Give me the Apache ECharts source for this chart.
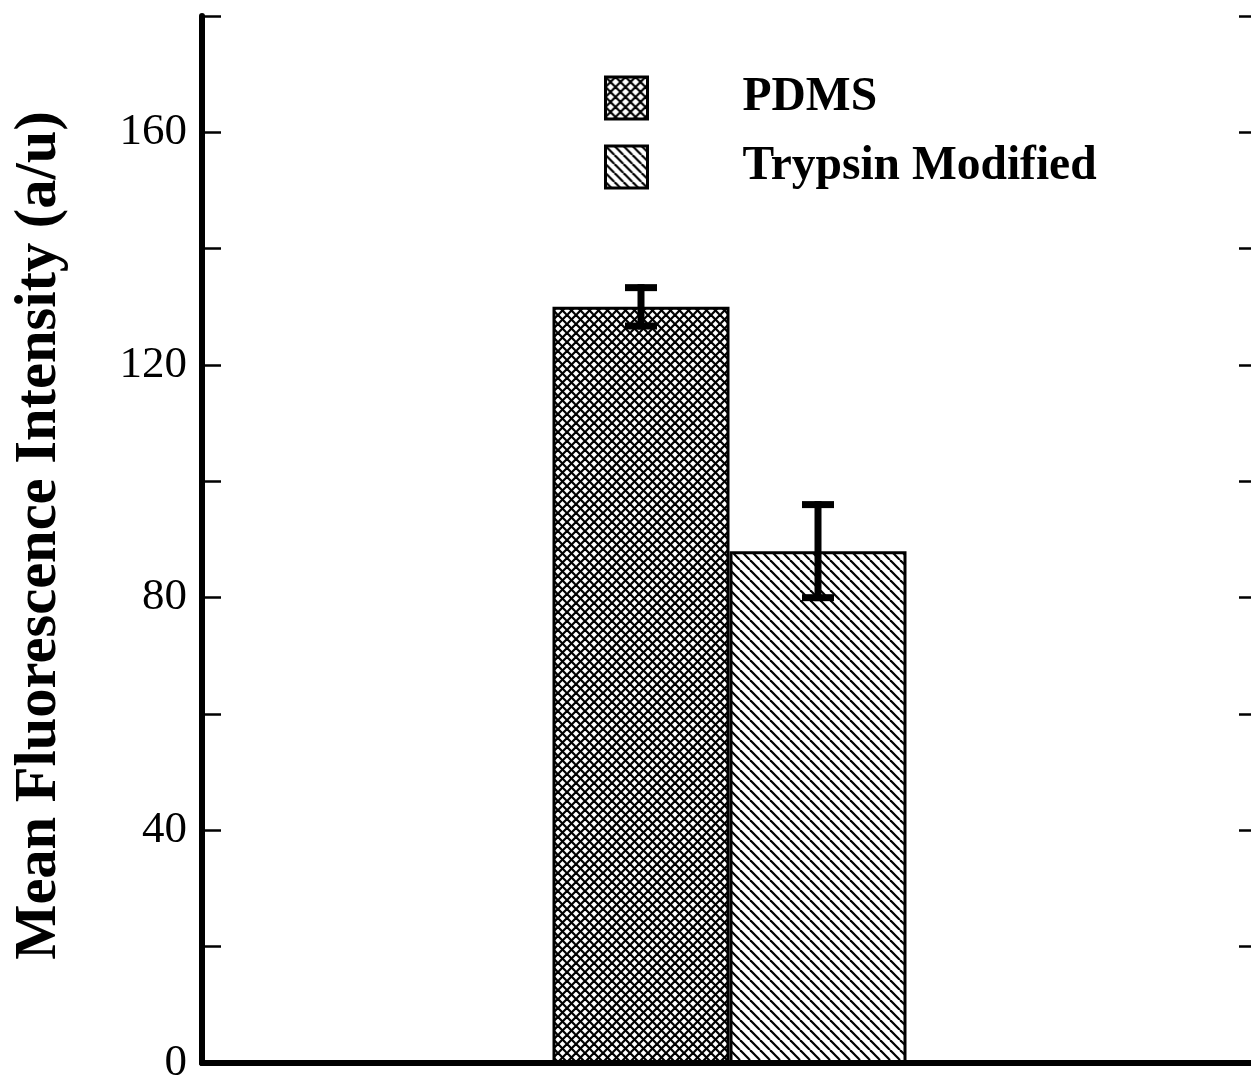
<!DOCTYPE html>
<html>
<head>
<meta charset="utf-8">
<script src="https://cdn.jsdelivr.net/npm/echarts@6/dist/echarts.min.js"></script>
<style>
  html, body { margin: 0; padding: 0; background: #fff; overflow: hidden; }
  #chart { width: 1262px; height: 1078px; }
</style>
</head>
<body>
<div id="chart"></div>
<script>
// ---- data ----
const categories = ['Sample'];
const seriesNames = ['PDMS', 'Trypsin Modified'];
const meanValues = [130, 88];
const errValues = [3.3, 8];
const yMin = 0, yMax = 180, yInterval = 20, yLabelStep = 40;
const yAxisTitle = 'Mean Fluorescence Intensity (a/u)';

// ---- styles ----
const BAR_W = 177;
const SERIF = '"Liberation Serif", "Times New Roman", serif';

function makePattern(kind, s) {
  const c = document.createElement('canvas');
  c.width = s; c.height = s;
  const g = c.getContext('2d');
  g.fillStyle = '#fff';
  g.fillRect(0, 0, s, s);
  g.strokeStyle = '#000';
  g.lineWidth = 2.2;
  for (let k = -1; k <= 1; k++) {
    g.beginPath();
    g.moveTo(k * s, 0);
    g.lineTo(k * s + s, s);
    g.stroke();
    if (kind === 'cross') {
      g.beginPath();
      g.moveTo(k * s + s, 0);
      g.lineTo(k * s, s);
      g.stroke();
    }
  }
  return { image: c, repeat: 'repeat' };
}
const patterns = [makePattern('cross', 9), makePattern('diag', 10)];
const legendPatterns = [makePattern('cross', 10), makePattern('diag', 9)];

const chart = echarts.init(document.getElementById('chart'));

function errRender(idx) {
  return function (params, api) {
    const lowP = api.coord([api.value(0), api.value(1)]);
    const highP = api.coord([api.value(0), api.value(2)]);
    const cx = lowP[0] + (idx - 0.5) * BAR_W;
    const capHalf = 16;
    const st = { stroke: '#000', lineWidth: 7, lineCap: 'butt' };
    return {
      type: 'group',
      children: [
        { type: 'line', shape: { x1: cx, y1: highP[1] - 3.5, x2: cx, y2: lowP[1] + 3.5 }, style: st },
        { type: 'line', shape: { x1: cx - capHalf, y1: highP[1], x2: cx + capHalf, y2: highP[1] }, style: st },
        { type: 'line', shape: { x1: cx - capHalf, y1: lowP[1], x2: cx + capHalf, y2: lowP[1] }, style: st }
      ]
    };
  };
}

const barSeries = seriesNames.map((name, i) => ({
  name: name,
  type: 'bar',
  data: [meanValues[i]],
  barWidth: BAR_W,
  barGap: '0%',
  itemStyle: { color: patterns[i], borderColor: '#000', borderWidth: 3 },
  z: 2,
  silent: true
}));

const errSeries = seriesNames.map((name, i) => ({
  name: name + ' error',
  type: 'custom',
  renderItem: errRender(i),
  data: [[0, meanValues[i] - errValues[i], meanValues[i] + errValues[i]]],
  encode: { x: 0, y: [1, 2] },
  z: 5,
  silent: true
}));

const axisLineStyle = { color: '#000', width: 6 };

chart.setOption({
  animation: false,
  backgroundColor: '#fff',
  grid: { left: 202, right: 5, top: 16, bottom: 15, containLabel: false, outerBoundsMode: 'none' },
  legend: {
    orient: 'vertical',
    left: 604,
    top: 74,
    padding: 0,
    itemWidth: 42,
    itemHeight: 42,
    itemGap: 21,
    icon: 'rect',
    selectedMode: false,
    textStyle: {
      fontFamily: SERIF,
      fontWeight: 'bold',
      fontSize: 47.5,
      color: '#000',
      lineHeight: 42,
      padding: [4, 0, 0, 90]
    },
    data: seriesNames.map((n, i) => ({
      name: n,
      itemStyle: { color: legendPatterns[i], borderColor: '#000', borderWidth: 3 }
    }))
  },
  xAxis: [
    {
      type: 'category',
      data: categories,
      position: 'bottom',
      axisLine: { show: true, lineStyle: axisLineStyle },
      axisTick: { show: false },
      axisLabel: { show: false },
      splitLine: { show: false }
    },
    {
      type: 'category',
      data: categories,
      position: 'top',
      axisLine: { show: true, lineStyle: { color: '#000', width: 5 } },
      axisTick: { show: false },
      axisLabel: { show: false },
      splitLine: { show: false }
    }
  ],
  yAxis: [
    {
      type: 'value',
      min: yMin,
      max: yMax,
      interval: yInterval,
      position: 'left',
      name: yAxisTitle,
      nameLocation: 'middle',
      nameGap: 133,
      nameTextStyle: {
        fontFamily: SERIF,
        fontWeight: 'bold',
        fontSize: 58.5,
        color: '#000',
        padding: [0, 0, 0, 8]
      },
      axisLine: { show: true, lineStyle: axisLineStyle },
      axisTick: { show: true, inside: true, length: 19, lineStyle: { color: '#000', width: 2.5 } },
      axisLabel: {
        margin: 15,
        fontFamily: SERIF,
        fontSize: 45,
        color: '#000',
        formatter: v => (v % yLabelStep === 0 ? String(v) : '')
      },
      splitLine: { show: false }
    },
    {
      type: 'value',
      min: yMin,
      max: yMax,
      interval: yInterval,
      position: 'right',
      axisLine: { show: true, lineStyle: axisLineStyle },
      axisTick: { show: true, inside: true, length: 18, lineStyle: { color: '#000', width: 2.5 } },
      axisLabel: { show: false },
      splitLine: { show: false }
    }
  ],
  series: barSeries.concat(errSeries)
});
</script>
</body>
</html>
